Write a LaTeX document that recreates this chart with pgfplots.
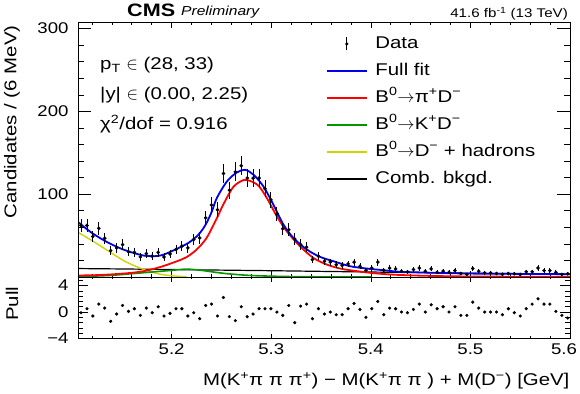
\documentclass[border=0pt]{standalone}
\usepackage{fontspec}
\setmainfont{Liberation Sans}[FakeStretch=1.2]
\usepackage{pgfplots}
\usepackage{pgfplotstable}
\pgfplotsset{compat=1.18}
\definecolor{fitblue}{RGB}{0,0,235}
\definecolor{sigred}{RGB}{255,0,0}
\definecolor{kdgreen}{RGB}{0,150,0}
\definecolor{hadyellow}{RGB}{210,210,0}
\newcommand{\fs}{\fontsize{17}{20}\selectfont}
\newcommand{\ft}{\fontsize{15.5}{18}\selectfont}

\pgfplotstableread{
x y e p
5.1090 62.1 7.9 -0.1
5.1150 62.3 7.9 0.5
5.1209 48.9 7.0 -0.6
5.1269 58.8 7.7 1.2
5.1328 46.8 6.8 0.6
5.1388 31.9 5.6 -1.4
5.1448 35.2 5.9 -0.3
5.1507 39.1 6.3 1.0
5.1567 30.4 5.5 0.1
5.1626 29.8 5.5 0.5
5.1686 24.2 4.9 -0.5
5.1746 28.3 5.3 0.6
5.1805 25.2 5.0 -0.1
5.1865 29.8 5.5 0.8
5.1924 24.2 4.9 -0.6
5.1984 27.9 5.3 -0.2
5.2044 33.1 5.8 0.5
5.2103 37.2 6.1 0.5
5.2163 35.2 5.9 -0.6
5.2222 45.2 6.7 -0.1
5.2282 47.2 6.9 -1.0
5.2342 71.4 8.4 1.0
5.2401 87.0 9.3 1.2
5.2461 81.3 9.0 -0.6
5.2520 125.0 11.2 2.2
5.2580 105.0 10.2 -0.7
5.2640 127.0 11.3 -1.3
5.2699 134.4 11.6 0.8
5.2759 119.5 10.9 -0.7
5.2818 119.5 10.9 -0.3
5.2878 119.5 10.9 0.5
5.2938 106.6 10.3 0.5
5.2997 93.2 9.7 0.5
5.3057 76.1 8.7 0.0
5.3116 58.2 7.6 -0.5
5.3176 57.1 7.6 1.0
5.3236 46.0 6.8 -1.6
5.3295 39.1 6.3 0.9
5.3355 36.0 6.0 1.2
5.3414 21.0 4.6 -1.0
5.3474 25.2 5.0 0.5
5.3534 19.0 4.4 -0.3
5.3593 18.0 4.2 0.0
5.3653 14.9 3.9 -0.4
5.3712 13.9 3.7 -0.4
5.3772 15.9 4.0 0.5
5.3832 18.0 4.2 1.3
5.3891 12.9 3.6 0.4
5.3951 8.2 2.9 -0.8
5.4010 10.8 3.3 0.5
5.4070 18.0 4.2 1.6
5.4130 8.2 2.9 -0.4
5.4189 10.8 3.3 0.6
5.4249 9.8 3.1 0.5
5.4308 7.0 2.6 0.0
5.4368 6.3 2.5 -0.1
5.4428 9.0 3.0 0.4
5.4487 10.8 3.3 1.2
5.4547 7.0 2.6 0.0
5.4606 9.8 3.1 1.1
5.4666 5.6 2.4 0.5
5.4726 7.0 2.6 0.8
5.4785 5.6 2.4 0.0
5.4845 7.7 2.8 0.8
5.4904 4.2 2.0 -0.5
5.4964 3.1 1.8 -0.5
5.5024 10.3 3.2 1.5
5.5083 7.0 2.6 0.6
5.5143 5.0 2.2 0.0
5.5202 5.0 2.2 0.0
5.5262 4.2 2.0 0.0
5.5322 3.4 1.8 -0.4
5.5381 4.2 2.0 0.5
5.5441 3.9 2.0 -0.1
5.5500 3.1 1.8 -0.6
5.5560 6.3 2.5 0.5
5.5620 6.3 2.5 1.2
5.5679 10.8 3.3 2.0
5.5739 7.7 2.8 1.2
5.5798 7.7 2.8 1.2
5.5858 5.6 2.4 0.1
5.5918 3.1 1.8 -0.5
5.5977 3.9 2.0 -0.9
}\datatab

\pgfplotstableread{
x y
5.106 66.4
5.12 53.2
5.1367 41.2
5.1534 32.3
5.1702 26.3
5.1802 25.1
5.1902 26.3
5.2036 33.1
5.2169 41.2
5.227 51.2
5.234 63
5.24 78
5.2454 95.4
5.2555 115.4
5.2655 126.3
5.2738 129.5
5.2822 123.5
5.2922 109.4
5.3022 87.3
5.3123 63.3
5.3223 47.2
5.3358 33.1
5.3491 24.3
5.3625 19
5.3792 13
5.396 10.2
5.4126 8.2
5.4294 6.3
5.4628 5.1
5.4963 4.2
5.5297 3.9
5.6 3.4
}\bluetab

\pgfplotstableread{
x y
5.106 1.8
5.13 2.5
5.1551 4.5
5.1718 7
5.1885 12
5.2053 19
5.215 24
5.225 33
5.235 47
5.245 70
5.2521 88
5.2621 109
5.2721 117
5.2789 116
5.2874 110
5.2958 95
5.3058 73
5.3157 55
5.329 37
5.3424 23
5.3558 15
5.37 10
5.385 7.2
5.4 5
5.42 3
5.45 1.6
5.5 0.6
5.6 0.2
}\redtab

\pgfplotstableread{
x y
5.106 0.5
5.12 1
5.14 2
5.16 4
5.18 6
5.2 8
5.215 9.5
5.23 8
5.245 5.5
5.26 3.5
5.28 1.8
5.3 1
5.32 0.5
5.35 0.2
5.4 0.1
}\greentab

\pgfplotstableread{
x y
5.106 54
5.12 44
5.137 31
5.153 19
5.17 10
5.18 6
5.19 3
5.2 1.5
5.215 0.3
}\yellowtab

\pgfplotstableread{
x y
5.106 10.2
5.15 9.7
5.2 9.0
5.25 8.3
5.3 7.6
5.35 6.8
5.4 6.0
5.45 5.3
5.5 4.6
5.55 4.0
5.6 3.4
}\blacktab

\pgfplotsset{
  rootaxis/.style={scale only axis, width=492pt, xmin=5.106, xmax=5.6,
    axis line style={line width=0.8pt}, tick style={black, line width=0.6pt},
    tick label style={font=\ft}},
  linelegend/.style={legend image code/.code={\draw[line width=1.2pt, draw=#1] (0pt,0pt) -- (40pt,0pt);}},
  datalegend/.style={legend image code/.code={%
    \path[draw=none] (0pt,0pt) (40pt,0pt);
    \draw[black, line width=0.8pt] (20pt,-6.5pt) -- (20pt,6.5pt);
    \fill[black] (20pt,0pt) circle (1.4pt);}},
}

\begin{document}
\begin{tikzpicture}
\useasboundingbox (0,0) rectangle (580pt,393pt);

% ---------- main panel: curves, data, x ticks, legend
\begin{axis}[rootaxis, at={(78pt,116pt)}, anchor=south west, height=255pt,
  ymin=0, ymax=308,
  xtick={5.2,5.3,5.4,5.5,5.6}, xticklabels={},
  minor xtick={5.12,5.14,5.16,5.18,5.22,5.24,5.26,5.28,5.32,5.34,5.36,5.38,5.42,5.44,5.46,5.48,5.52,5.54,5.56,5.58},
  ytick=\empty,
  major tick length=6pt, minor tick length=3pt,
  legend style={at={(axis description cs:0.498,0.955)}, anchor=north west,
    draw=none, fill=none, font=\fs, row sep=10.5pt, column sep=8pt,
    nodes={inner sep=0pt, text height=12.5pt, text depth=4pt}},
  legend cell align=left,
]
\addlegendimage{datalegend}
\addlegendentry{Data}
\addlegendimage{linelegend=fitblue}
\addlegendentry{Full fit}
\addlegendimage{linelegend=sigred}
\addlegendentry{B\textsuperscript{0}$\rightarrow$π\textsuperscript{+}D\textsuperscript{−}}
\addlegendimage{linelegend=kdgreen}
\addlegendentry{B\textsuperscript{0}$\rightarrow$K\textsuperscript{+}D\textsuperscript{−}}
\addlegendimage{linelegend=hadyellow}
\addlegendentry{B\textsuperscript{0}$\rightarrow$D\textsuperscript{−} + hadrons}
\addlegendimage{linelegend=black}
\addlegendentry{Comb. bkgd.}

\addplot[black, line width=1.2pt, smooth, forget plot] table[x=x,y=y] {\blacktab};
\addplot[hadyellow, line width=1.4pt, smooth, forget plot] table[x=x,y=y] {\yellowtab};
\addplot[kdgreen, line width=1.6pt, smooth, forget plot] table[x=x,y=y] {\greentab};
\addplot[sigred, line width=1.8pt, smooth, forget plot] table[x=x,y=y] {\redtab};
\addplot[fitblue, line width=1.8pt, smooth, forget plot] table[x=x,y=y] {\bluetab};
\addplot[black, only marks, mark=*, mark size=1.6pt, forget plot,
  error bars/.cd, y dir=both, y explicit, error mark=none,
  error bar style={line width=0.9pt}]
  table[x=x, y=y, y error=e] {\datatab};
\end{axis}

% ---------- main panel: y ticks
\begin{axis}[rootaxis, at={(78pt,116pt)}, anchor=south west, height=255pt,
  ymin=0, ymax=308, xtick=\empty,
  ytick={100,200,300}, yticklabels={100,200,300},
  minor ytick={20,40,60,80,120,140,160,180,220,240,260,280},
  major tick length=13pt, minor tick length=6.5pt,
  yticklabel style={xshift=-6pt},
  ylabel={Candidates / (6 MeV)},
  ylabel style={font=\fs, at={(axis description cs:-0.134,1)}, anchor=east},
]
\end{axis}

% ---------- pull panel: points, x ticks
\begin{axis}[rootaxis, at={(78pt,54.5pt)}, anchor=south west, height=61.5pt,
  ymin=-4, ymax=5.3,
  xtick={5.2,5.3,5.4,5.5,5.6}, xticklabels={5.2,5.3,5.4,5.5,\hspace*{-12pt}5.6},
  minor xtick={5.12,5.14,5.16,5.18,5.22,5.24,5.26,5.28,5.32,5.34,5.36,5.38,5.42,5.44,5.46,5.48,5.52,5.54,5.56,5.58},
  ytick=\empty,
  major tick length=5pt, minor tick length=2.5pt,
  xticklabel style={yshift=-2pt},
  xlabel={M(K\textsuperscript{+}π π π\textsuperscript{+}) − M(K\textsuperscript{+}π π ) + M(D\textsuperscript{−}) [GeV]},
  xlabel style={font=\fs, at={(axis description cs:1.006,-0.69)}, anchor=east},
]
\addplot[black, only marks, mark=*, mark size=1.4pt] table[x=x, y=p] {\datatab};
\end{axis}

% ---------- pull panel: y ticks
\begin{axis}[rootaxis, at={(78pt,54.5pt)}, anchor=south west, height=61.5pt,
  ymin=-4, ymax=5.3, xtick=\empty,
  ytick={-4,0,4}, yticklabels={−4,0,4},
  minor ytick={-3.2,-2.4,-1.6,-0.8,0.8,1.6,2.4,3.2,4.8},
  major tick length=10pt, minor tick length=5pt,
  yticklabel style={xshift=-6pt},
  ylabel={Pull},
  ylabel style={font=\fs, at={(axis description cs:-0.134,0.9)}, anchor=east},
]
\end{axis}

% ---------- texts
\node[anchor=base west, inner sep=0pt] at (127pt,376pt) {\fontsize{18}{18}\selectfont\bfseries CMS};
\node[anchor=base west, inner sep=0pt] at (181pt,377pt) {\fontsize{13}{13}\selectfont\itshape Preliminary};
\node[anchor=base east, inner sep=0pt] at (568pt,375.5pt) {\fontsize{12.6}{13}\selectfont 41.6 fb\textsuperscript{-1} (13 TeV)};
\node[anchor=base west, inner sep=0pt] at (100pt,323pt) {\fs p\textsubscript{T} $\in$ (28, 33)};
\node[anchor=base west, inner sep=0pt] at (100pt,293pt) {\fs |y| $\in$ (0.00, 2.25)};
\node[anchor=base west, inner sep=0pt] at (100pt,263pt) {\fs χ\textsuperscript{2}/dof = 0.916};
\end{tikzpicture}
\end{document}
